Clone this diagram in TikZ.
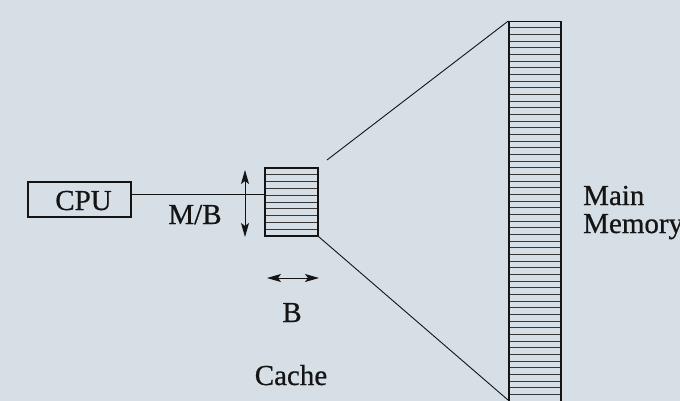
\documentclass[tikz,border=0pt]{standalone}
\usepackage{fontspec}
\setmainfont{Liberation Serif}
\newfontfamily\heavyfont{Liberation Serif}[FakeBold=0.6]
\usetikzlibrary{arrows.meta}
\definecolor{bg}{RGB}{214,222,230}
\definecolor{ink}{RGB}{20,20,20}
\begin{document}
\begin{tikzpicture}[x=1pt,y=-1pt,
  lbl/.style={font=\heavyfont\fontsize{29}{29}\selectfont, inner sep=0pt, text=ink},
  boxline/.style={draw=ink, line width=1.4pt},
  rowline/.style={draw=ink!85, line width=0.9pt},
  conn/.style={draw=ink, line width=0.9pt},
  dbl/.style={draw=ink, line width=1pt,
    {Stealth[length=14pt,width=8pt,inset=3pt]}-{Stealth[length=14pt,width=8pt,inset=3pt]}}]
\fill[bg] (0,0) rectangle (680,401);
\useasboundingbox (0,0) rectangle (680,401);
% CPU
\node[boxline, minimum width=103pt, minimum height=35pt, inner sep=0pt] (cpu) at (79.5,199.5) {};
\node[lbl, anchor=base] (cputxt) at (83.5,210) {CPU};
% cache
\node[boxline, minimum width=53pt, minimum height=68pt, inner sep=0pt] (cache) at (291.5,202) {};
\foreach \i in {1,...,9} \draw[rowline] (265.7,168+\i*6.8) -- (317.3,168+\i*6.8);
% main memory
\begin{scope}
\clip (0,0) rectangle (680,401);
\node[boxline, minimum width=52pt, minimum height=400pt, inner sep=0pt, anchor=north] (mem) at (535,21) {};
\foreach \i in {1,...,57} \draw[rowline] (509.7,21+\i*6.67) -- (560.3,21+\i*6.67);
\end{scope}
% connectors
\draw[conn] (cpu.east |- 0,194) -- (cache.west |- 0,194);
\coordinate (uptop) at (327,160);
\coordinate (lowend) at (508,400);
\draw[conn] (uptop) -- (mem.north west);
\draw[conn] (cache.south east) -- (lowend);
% dimension arrows
\coordinate (va) at (245,170);
\coordinate (vb) at (245,237);
\draw[dbl] (va) -- (vb);
\coordinate (ha) at (267,278);
\coordinate (hb) at (319,278);
\draw[dbl] (ha) -- (hb);
% labels
\node[lbl, anchor=base] (mb) at (195,224) {M/B};
\node[lbl, anchor=base] (b) at (292,322) {B};
\node[lbl, anchor=base] (cachetxt) at (291,385) {Cache};
\node[lbl, anchor=base west] (main) at (583,205) {Main};
\node[lbl, anchor=base west] (memory) at (583,233) {Memory};
\end{tikzpicture}
\end{document}
